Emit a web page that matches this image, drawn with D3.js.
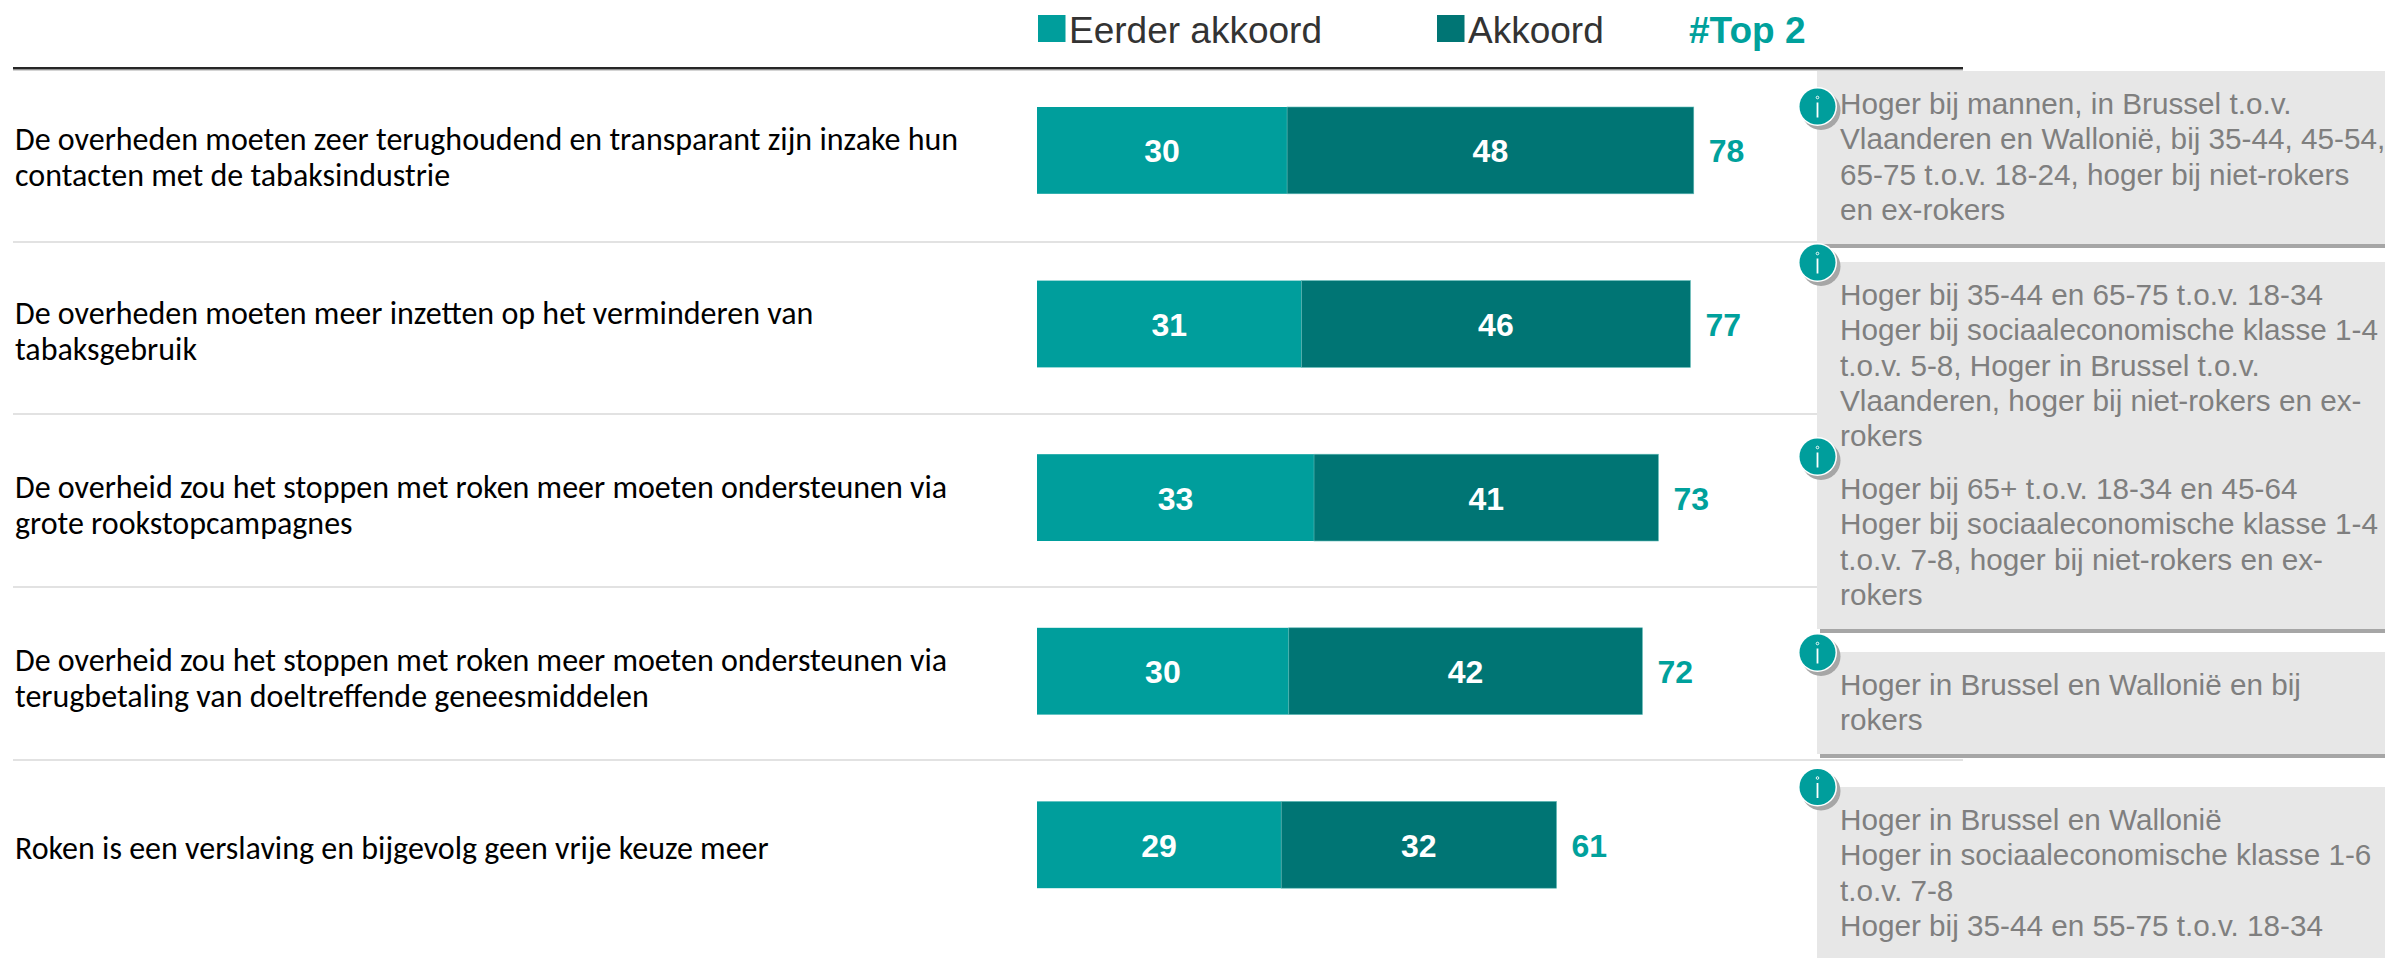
<!DOCTYPE html>
<html><head><meta charset="utf-8">
<script src="https://cdnjs.cloudflare.com/ajax/libs/d3/7.8.5/d3.min.js"></script>
<style>html,body{margin:0;padding:0;background:#fff;overflow:hidden}svg{display:block}</style>
</head><body><div id="chart"></div>
<script>
const categories = [
  ["De overheden moeten zeer terughoudend en transparant zijn inzake hun","contacten met de tabaksindustrie"],
  ["De overheden moeten meer inzetten op het verminderen van","tabaksgebruik"],
  ["De overheid zou het stoppen met roken meer moeten ondersteunen via","grote rookstopcampagnes"],
  ["De overheid zou het stoppen met roken meer moeten ondersteunen via","terugbetaling van doeltreffende geneesmiddelen"],
  ["Roken is een verslaving en bijgevolg geen vrije keuze meer"]
];
const seriesNames = ["Eerder akkoord","Akkoord"];
const eerderAkkoord = [29.7,31.4,32.9,29.9,29.0];
const akkoord = [48.3,46.2,40.9,42.0,32.7];
const eerderLabels = [30,31,33,30,29];
const akkoordLabels = [48,46,41,42,32];
const top2 = [78,77,73,72,61];
const notes = [
  ["Hoger bij mannen, in Brussel t.o.v.","Vlaanderen en Wallonië, bij 35-44, 45-54,","65-75 t.o.v. 18-24, hoger bij niet-rokers","en ex-rokers"],
  ["Hoger bij 35-44 en 65-75 t.o.v. 18-34","Hoger bij sociaaleconomische klasse 1-4","t.o.v. 5-8, Hoger in Brussel t.o.v.","Vlaanderen, hoger bij niet-rokers en ex-","rokers"],
  ["Hoger bij 65+ t.o.v. 18-34 en 45-64","Hoger bij sociaaleconomische klasse 1-4","t.o.v. 7-8, hoger bij niet-rokers en ex-","rokers"],
  ["Hoger in Brussel en Wallonië en bij","rokers"],
  ["Hoger in Brussel en Wallonië","Hoger in sociaaleconomische klasse 1-6","t.o.v. 7-8","Hoger bij 35-44 en 55-75 t.o.v. 18-34"]
];
// layout of the side panels (annotation boxes, not data)
const panelTop = [71,262,445,652,787];
const panelBottom = [244,450,629,754,975];
const noteFirstBaseline = [114,305,499,695,830];
const iconY = [106.5,262.5,456.5,652.5,787];
const labelFirstBaseline = [150,324,498,671,859];
const separators = [242,414,587,760];

const W=2385,H=958;
const TEAL="#009E9C",DARK="#007574",TOPC="#00A19C";
const SANS="'Liberation Sans',Arial,sans-serif";
const svg=d3.select("#chart").append("svg").attr("width",W).attr("height",H).attr("viewBox",`0 0 ${W} ${H}`);
const x=d3.scaleLinear().domain([0,100]).range([1037,1879]);
const idx=d3.range(categories.length);
const y=d3.scaleBand().domain(idx).range([63.6,931.6]).paddingInner(.5).paddingOuter(.25);

// rules
svg.append("rect").attr("x",13).attr("y",69).attr("width",1950).attr("height",1.5).attr("fill","#aaa");
svg.append("rect").attr("x",13).attr("y",67).attr("width",1950).attr("height",2.2).attr("fill","#262626");
svg.selectAll("line.sep").data(separators).join("line").attr("class","sep")
  .attr("x1",13).attr("x2",1963).attr("y1",d=>d).attr("y2",d=>d).attr("stroke","#d9d9d9").attr("stroke-width",1.6);

// legend
const legend=[{n:seriesNames[0],c:TEAL,x:1038},{n:seriesNames[1],c:DARK,x:1437}];
svg.selectAll("rect.leg").data(legend).join("rect").attr("class","leg")
  .attr("x",d=>d.x).attr("y",15).attr("width",27.5).attr("height",27).attr("fill",d=>d.c);
svg.selectAll("text.leg").data(legend).join("text").attr("class","leg")
  .attr("x",d=>d.x+31).attr("y",43).text(d=>d.n)
  .attr("font-family",SANS).attr("font-size",37).attr("fill","#333");
svg.append("text").attr("x",1689).attr("y",43).text("#Top 2")
  .attr("font-family",SANS).attr("font-weight",700).attr("font-size",37).attr("fill",TOPC);

// row labels
idx.forEach(i=>{
  svg.append("g").selectAll("text").data(categories[i]).join("text")
    .attr("x",15).attr("y",(d,j)=>labelFirstBaseline[i]+j*36).text(d=>d)
    .attr("font-family","Carlito,Lato,sans-serif").attr("font-size",32).attr("fill","#000");
});

// bars
const stack=d3.stack().keys([0,1]).value((i,k)=>k===0?eerderAkkoord[i]:akkoord[i])(idx);
const cols=[TEAL,DARK];
const labelsOf=[eerderLabels,akkoordLabels];
stack.forEach((s,k)=>{
  const g=svg.append("g");
  g.selectAll("rect").data(s).join("rect")
    .attr("x",d=>x(d[0])).attr("width",d=>x(d[1])-x(d[0]))
    .attr("y",d=>y(d.data)).attr("height",y.bandwidth()).attr("fill",cols[k])
    .attr("stroke","#5fb9b6").attr("stroke-width",k===1?.6:.0);
  g.selectAll("text").data(s).join("text")
    .attr("x",d=>(x(d[0])+x(d[1]))/2).attr("y",d=>y(d.data)+y.bandwidth()/2+12)
    .attr("text-anchor","middle").text((d,i)=>labelsOf[k][i])
    .attr("font-family",SANS).attr("font-weight",700).attr("font-size",32).attr("fill","#fff");
});
svg.append("g").selectAll("text").data(idx).join("text")
  .attr("x",i=>x(eerderAkkoord[i]+akkoord[i])+15).attr("y",i=>y(i)+y.bandwidth()/2+12)
  .text(i=>top2[i]).attr("font-family",SANS).attr("font-weight",700).attr("font-size",32).attr("fill",TOPC);

// panels
idx.forEach(i=>{
  svg.append("rect").attr("x",1820).attr("y",panelTop[i]+4).attr("width",W-1820).attr("height",panelBottom[i]-panelTop[i]).attr("fill","#a6a6a6");
});
idx.forEach(i=>{
  svg.append("rect").attr("x",1817).attr("y",panelTop[i]).attr("width",W-1817).attr("height",panelBottom[i]-panelTop[i]).attr("fill","#e7e7e7");
});
idx.forEach(i=>{
  svg.append("g").selectAll("text").data(notes[i]).join("text")
    .attr("x",1840).attr("y",(d,j)=>noteFirstBaseline[i]+j*35.3).text(d=>d)
    .attr("font-family",SANS).attr("font-size",29.7).attr("fill","#7f7f7f");
});
// info icons
idx.forEach(i=>{
  const g=svg.append("g").attr("transform",`translate(1817.5,${iconY[i]})`);
  g.append("circle").attr("cx",3.5).attr("cy",4).attr("r",19.5).attr("fill","#a6a6a6");
  g.append("circle").attr("r",19.5).attr("fill","#fff");
  g.append("circle").attr("r",18).attr("fill",TEAL);
  g.append("circle").attr("cy",-9).attr("r",1.3).attr("fill","none").attr("stroke","#fff").attr("stroke-width",.9);
  g.append("rect").attr("x",-.9).attr("y",-4).attr("width",1.8).attr("height",15).attr("fill","#fff");
});
</script></body></html>
